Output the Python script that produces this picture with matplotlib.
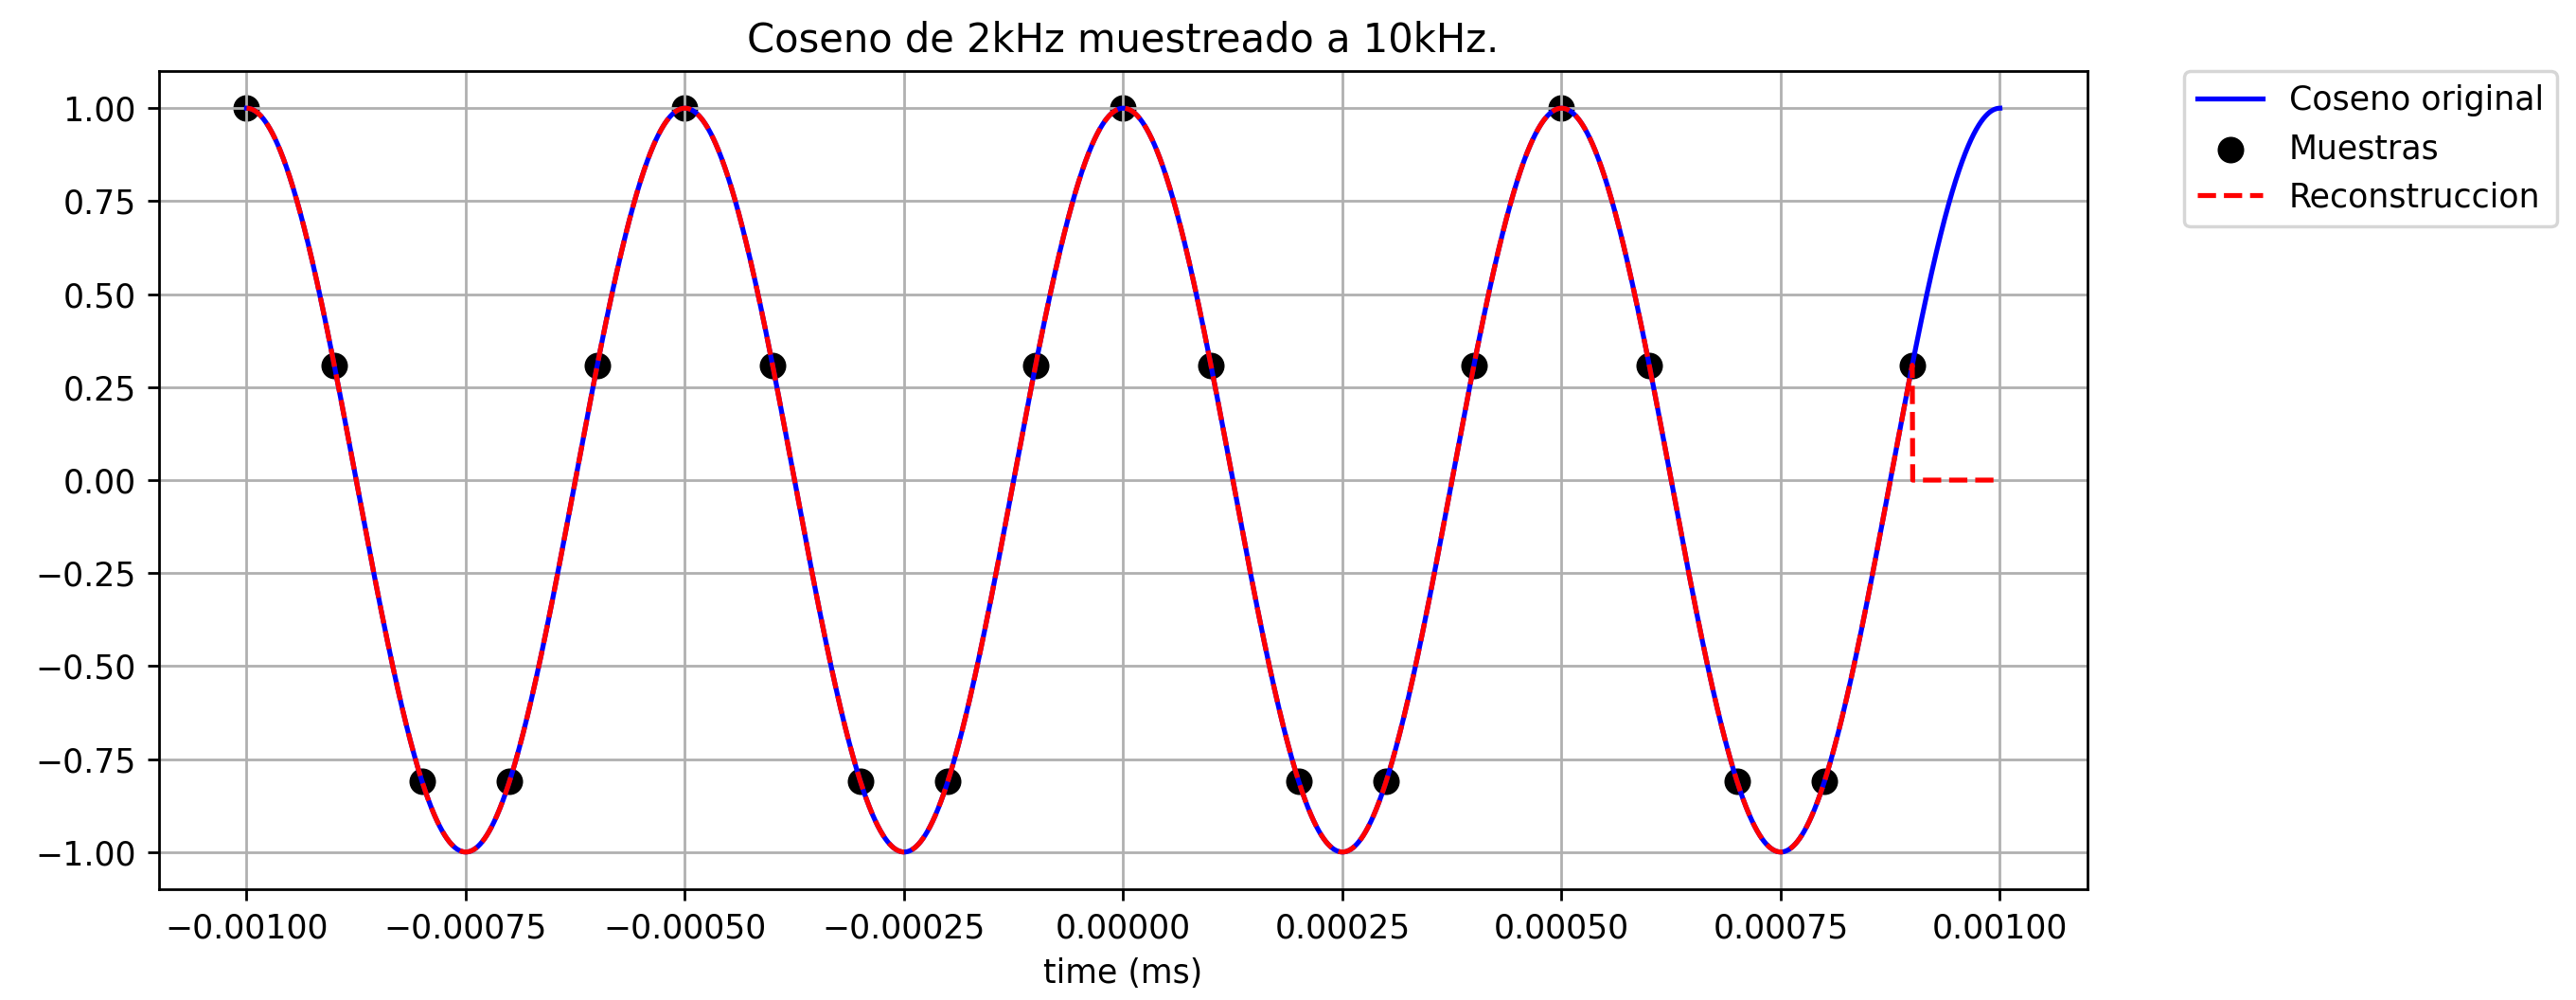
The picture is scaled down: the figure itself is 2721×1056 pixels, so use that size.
import numpy as np
import matplotlib
matplotlib.use('Agg')
import matplotlib.pyplot as plt

# Signal parameters (from the title)
F0 = 2000.0     # Hz, cosine frequency
FS = 10000.0    # Hz, sampling frequency
T_START, T_END = -0.001, 0.001

# Samples (black dots)
sample_t = [-0.0010, -0.0009, -0.0008, -0.0007, -0.0006, -0.0005, -0.0004,
            -0.0003, -0.0002, -0.0001, 0.0000, 0.0001, 0.0002, 0.0003,
            0.0004, 0.0005, 0.0006, 0.0007, 0.0008, 0.0009]
sample_y = [1.000, 0.309, -0.809, -0.809, 0.309, 1.000, 0.309,
            -0.809, -0.809, 0.309, 1.000, 0.309, -0.809, -0.809,
            0.309, 1.000, 0.309, -0.809, -0.809, 0.309]

TITLE = 'Coseno de 2kHz muestreado a 10kHz.'
XLABEL = 'time (ms)'
LABELS = ['Coseno original', 'Muestras', 'Reconstruccion']


# ── Curves ───────────────────────────────────────────────────────────────────

t = np.linspace(T_START, T_END, 4001)
x_orig = np.cos(2 * np.pi * F0 * t)

# band-limited (periodic sinc) reconstruction from the samples,
# nothing past the last sample
ts = np.asarray(sample_t)
ys = np.asarray(sample_y)
n = len(ys)
X = np.fft.fft(ys)
f = np.fft.fftfreq(n, d=1 / FS)
x_rec = np.real(np.exp(2j * np.pi * np.outer(t - ts[0], f)) @ X) / n
x_rec[t > ts[-1] + 1e-9] = 0.0


# ── Plot ─────────────────────────────────────────────────────────────────────

fig = plt.figure(figsize=(2721 / 250, 1056 / 250), dpi=250)
ax = fig.add_axes([0.0617, 0.1108, 0.7487, 0.8182])

ax.plot(t, x_orig, color='blue', lw=1.5, label=LABELS[0])
ax.scatter(sample_t, sample_y, color='black', s=50, label=LABELS[1])
ax.plot(t, x_rec, color='red', ls='--', lw=1.5, label=LABELS[2])

ax.set_title(TITLE, fontsize=12)
ax.set_xlabel(XLABEL)
ax.grid(True)
ax.yaxis.set_major_locator(plt.MultipleLocator(0.25))
ax.legend(bbox_to_anchor=(1.05, 1), loc='upper left', borderaxespad=0.)

fig.savefig('out.png', dpi=250)
plt.close(fig)
